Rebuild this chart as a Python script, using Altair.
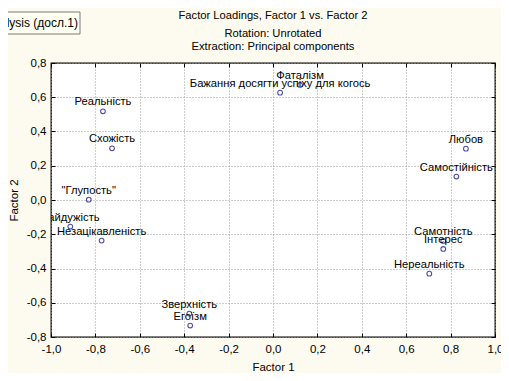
import altair as alt
import pandas as pd

labels = ["Реальність", "Схожість", "\"Глупость\"", "Байдужість", "Незацікавленість",
          "Зверхність", "Егоїзм", "Бажання досягти успіху для когось", "Фаталізм",
          "Любов", "Самостійність", "Самотність", "Інтерес", "Нереальність"]
factor1 = [-0.766, -0.725, -0.830, -0.913, -0.772, -0.377, -0.373, 0.032, 0.122,
           0.869, 0.826, 0.767, 0.767, 0.704]
factor2 = [0.518, 0.302, 0.002, -0.155, -0.237, -0.663, -0.733, 0.627, 0.672,
           0.300, 0.137, -0.239, -0.286, -0.430]
x_ticks = [-1.0, -0.8, -0.6, -0.4, -0.2, 0.0, 0.2, 0.4, 0.6, 0.8, 1.0]
y_ticks = [-0.8, -0.6, -0.4, -0.2, 0.0, 0.2, 0.4, 0.6, 0.8]
title_lines = ["Factor Loadings, Factor 1 vs. Factor 2", "Rotation: Unrotated",
               "Extraction: Principal components"]
tooltip_text = ["nalysis (досл.1)"]

df = pd.DataFrame({"label": labels, "f1": factor1, "f2": factor2})
tip = pd.DataFrame({"t": tooltip_text})
t0 = pd.DataFrame({"t": title_lines[0:1]})
t1 = pd.DataFrame({"t": title_lines[1:2]})
t2 = pd.DataFrame({"t": title_lines[2:3]})

FONT = "Liberation Sans"
BG = "#FDFBF0"
FS = 11.2
lab_expr = "(datum.value < 0 ? '-' : '') + replace(format(abs(datum.value), '.1f'), '.', ',')"

xs = alt.Scale(domain=[-1, 1], nice=False, zero=False)
ys = alt.Scale(domain=[-0.8, 0.8], nice=False, zero=False)

grid_kw = dict(grid=True, gridDash=[1, 2], gridColor="#9a9a9a", gridWidth=1)

pts = alt.Chart(df).mark_point(shape="circle", filled=False, size=22,
                               color="#000080", strokeWidth=1.1).encode(
    x=alt.X("f1:Q", scale=xs, axis=alt.Axis(
        orient="bottom", values=x_ticks, labelExpr=lab_expr, title="Factor 1",
        tickSize=4, offset=-4, domain=False, tickColor="black",
        labelPadding=6, titlePadding=7, labelFont=FONT, labelFontSize=11.5,
        labelColor="black", titleFont=FONT, titleFontSize=11.5,
        titleFontWeight="normal", titleColor="black", labelFlush=False,
        **grid_kw)),
    y=alt.Y("f2:Q", scale=ys, axis=alt.Axis(
        orient="left", values=y_ticks, labelExpr=lab_expr, title="Factor 2",
        tickSize=4, offset=-4, domain=False, tickColor="black",
        labelPadding=5, titlePadding=7, labelFont=FONT, labelFontSize=11.5,
        labelColor="black", titleFont=FONT, titleFontSize=11.5,
        titleFontWeight="normal", titleColor="black", labelFlush=False,
        **grid_kw)),
)

txt = alt.Chart(df).mark_text(font=FONT, fontSize=FS, color="black", dy=-9,
                              baseline="middle", align="center", clip=True).encode(
    x=alt.X("f1:Q", scale=xs, axis=alt.Axis(
        orient="top", values=x_ticks, labels=False, title=None, tickSize=4,
        offset=-4, domain=False, tickColor="black", grid=False)),
    y=alt.Y("f2:Q", scale=ys, axis=alt.Axis(
        orient="right", values=y_ticks, labels=False, title=None, tickSize=4,
        offset=-4, domain=False, tickColor="black", grid=False)),
    text="label:N",
)

def title_line(d, ypix):
    return alt.Chart(d).mark_text(font=FONT, fontSize=FS, color="black",
                                  align="center", baseline="middle").encode(
        x=alt.value(222), y=alt.value(ypix), text="t:N")

tip_box = alt.Chart(tip).mark_rect(fill="#FFFFF2", stroke="#7a7a7a",
                                   strokeWidth=1).encode(
    x=alt.value(-52), x2=alt.value(29), y=alt.value(-51), y2=alt.value(-29))
tip_txt = alt.Chart(tip).mark_text(font=FONT, fontSize=12, color="black",
                                   align="right", baseline="middle").encode(
    x=alt.value(27), y=alt.value(-40), text="t:N")

chart = alt.layer(
    pts, txt, tip_box, tip_txt,
    title_line(t0, -47), title_line(t1, -29.5), title_line(t2, -16),
).resolve_axis(
    x="independent", y="independent"
).properties(
    width=444, height=274,
    autosize=alt.AutoSizeParams(type="none"),
    padding={"left": 43, "top": 55, "right": 6, "bottom": 36},
    background=BG,
).configure_view(stroke="black", strokeWidth=1.3, fill="white")

chart.save("out.html", embed_options={"renderer": "svg", "actions": False})
